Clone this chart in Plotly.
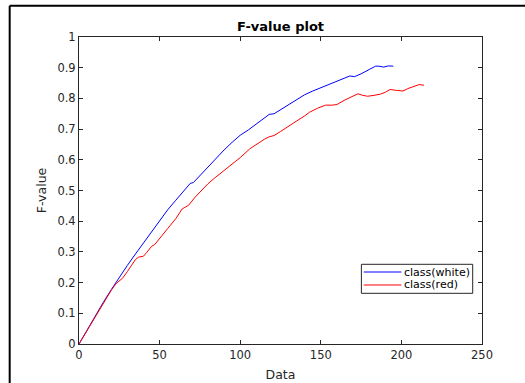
import plotly.graph_objects as go

# ---- data ----
white_x = [0, 5, 10, 15, 20, 25, 30, 35, 40, 45, 50, 55, 60, 65, 67, 69, 71, 75, 80, 85, 90, 95,
           100, 105, 110, 115, 118, 121, 125, 130, 135, 140, 145, 150, 155, 160, 165, 168,
           171, 175, 180, 184, 186, 189, 192, 195]
white_y = [0, 0.046, 0.091, 0.135, 0.177, 0.218, 0.256, 0.293, 0.33, 0.366, 0.401, 0.437, 0.468,
           0.498, 0.512, 0.523, 0.526, 0.548, 0.578, 0.606, 0.632, 0.657, 0.68, 0.697, 0.716, 0.734,
           0.748, 0.75, 0.763, 0.781, 0.798, 0.812, 0.824, 0.835, 0.845, 0.857, 0.868, 0.873,
           0.871, 0.88, 0.894, 0.905, 0.905, 0.902, 0.906, 0.905]

red_x = [0, 5, 10, 15, 20, 23, 25, 27, 30, 35, 37, 40, 42, 45, 47, 50, 55, 60, 64, 66, 68, 72, 75,
         80, 84, 90, 95, 100, 106, 112, 115, 118, 121, 125, 130, 134, 140, 143, 148, 153, 157, 160,
         165, 170, 173, 176, 179, 183, 187, 190, 193, 197, 201, 204, 207, 211, 214]
red_y = [0, 0.044, 0.088, 0.132, 0.175, 0.197, 0.205, 0.214, 0.236, 0.275, 0.283, 0.286, 0.298,
         0.318, 0.324, 0.345, 0.376, 0.408, 0.44, 0.446, 0.452, 0.478, 0.495, 0.522, 0.54, 0.565,
         0.587, 0.607, 0.636, 0.658, 0.667, 0.675, 0.679, 0.692, 0.708, 0.723, 0.743, 0.755, 0.768,
         0.778, 0.778, 0.78, 0.795, 0.808, 0.815, 0.81, 0.807, 0.81, 0.814, 0.82, 0.829, 0.826,
         0.824, 0.832, 0.837, 0.845, 0.843]

series_names = ["class(white)", "class(red)"]
series_colors = ["#0000ff", "#ff0000"]
x_ticks = [0, 50, 100, 150, 200, 250]
y_ticks = [0, 0.1, 0.2, 0.3, 0.4, 0.5, 0.6, 0.7, 0.8, 0.9, 1]

AX = "#262626"
FONT = "DejaVu Sans"

fig = go.Figure()
fig.add_trace(go.Scatter(x=white_x, y=white_y, mode="lines", name=series_names[0],
                         line=dict(color=series_colors[0], width=1)))
fig.add_trace(go.Scatter(x=red_x, y=red_y, mode="lines", name=series_names[1],
                         line=dict(color=series_colors[1], width=1)))

axis_common = dict(showgrid=False, zeroline=False, showline=True, linecolor=AX, linewidth=1,
                   mirror="ticks", ticks="inside", ticklen=4, tickcolor=AX, tickwidth=1,
                   automargin=False,
                   tickfont=dict(family=FONT, size=11.5, color=AX))

fig.update_xaxes(range=[0, 250], tickvals=x_ticks, ticktext=[str(v) for v in x_ticks],
                 title=dict(text="Data", font=dict(family=FONT, size=12.5, color=AX), standoff=9),
                 **axis_common)
fig.update_yaxes(range=[0, 1], tickvals=y_ticks, ticktext=[("%g" % v) for v in y_ticks],
                 title=dict(text="F-value", font=dict(family=FONT, size=12.5, color=AX), standoff=8),
                 **axis_common)

# manual MATLAB-style legend (compact spacing)
box = dict(x0=0.7007, x1=0.9769, y0=0.1651, y1=0.2596)
entry_y = [0.2345, 0.1922]
shapes = [
    dict(type="line", xref="paper", yref="paper", x0=-0.172, x1=-0.172, y0=1.1016, y1=-0.2,
         line=dict(color="black", width=2)),
    dict(type="line", xref="paper", yref="paper", x0=-0.172, x1=1.2, y0=1.1016, y1=1.1016,
         line=dict(color="black", width=2)),
    dict(type="rect", xref="paper", yref="paper", fillcolor="white",
         line=dict(color=AX, width=1), **box),
]
annotations = []
for name, col, yy in zip(series_names, series_colors, entry_y):
    shapes.append(dict(type="line", xref="paper", yref="paper", x0=0.7065, x1=0.80,
                       y0=yy, y1=yy, line=dict(color=col, width=1)))
    annotations.append(dict(text=name, xref="paper", yref="paper", x=0.802, y=yy,
                            xanchor="left", yanchor="middle", showarrow=False,
                            font=dict(family=FONT, size=11, color="black")))

fig.update_layout(
    width=525, height=383,
    margin=dict(l=79, r=43, t=37, b=39),
    paper_bgcolor="white", plot_bgcolor="white",
    title=dict(text="<b>F-value plot</b>", x=0.5, xref="paper", y=1, yref="paper",
               yanchor="bottom", pad=dict(b=6), automargin=False,
               font=dict(family=FONT, size=13, color="black")),
    showlegend=False,
    shapes=shapes,
    annotations=annotations,
)

fig.write_html("out.html")
